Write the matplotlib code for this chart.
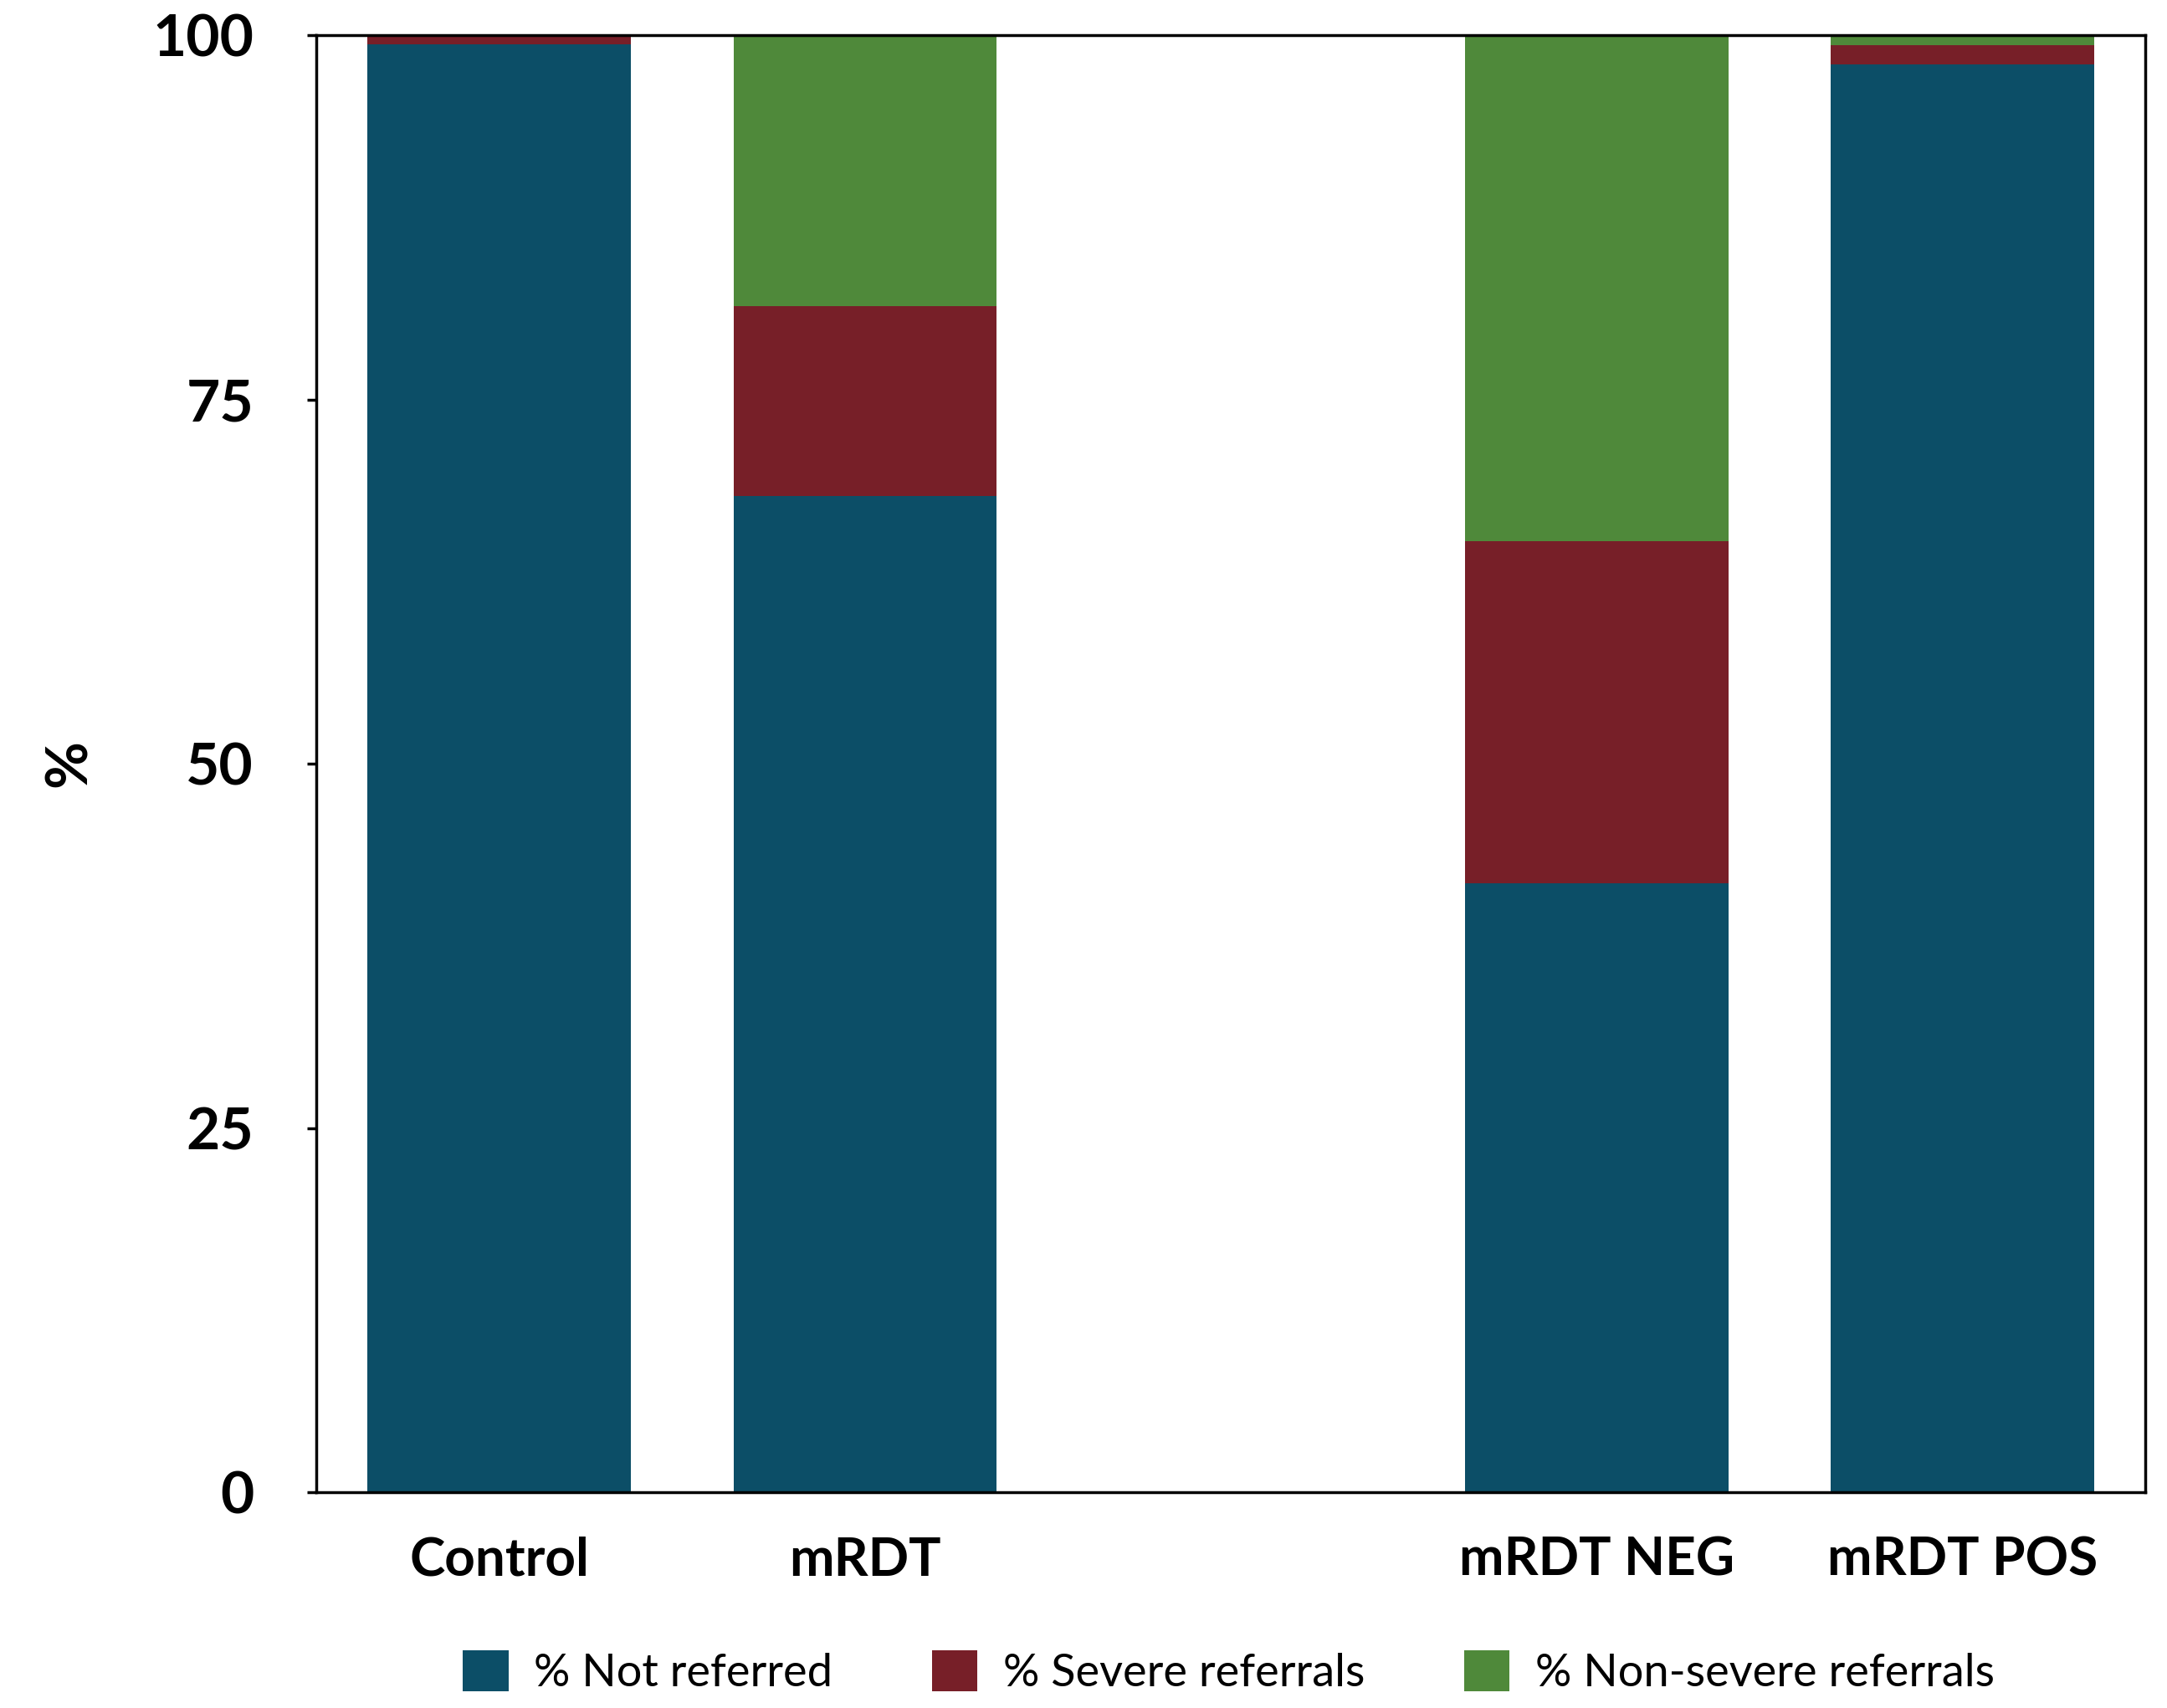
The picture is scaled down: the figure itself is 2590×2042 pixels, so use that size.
import matplotlib.pyplot as plt

categories = ["Control", "mRDT", "mRDT NEG", "mRDT POS"]
not_referred = [99.4, 68.4, 41.8, 98.0]
severe = [0.6, 13.0, 23.5, 1.35]
non_severe = [0.0, 18.6, 34.7, 0.65]

series_names = ["% Not referred", "% Severe referrals", "% Non-severe referrals"]
colors = ["#0C4E67", "#771F28", "#4F893A"]

# gap between the first pair and the second pair of bars
xpos = [0, 1, 3, 4]

plt.rcParams['font.family'] = ['Lato', 'DejaVu Sans']

fig = plt.figure(figsize=(25.9, 20.42), dpi=100)
ax = fig.add_axes([0.146, 0.1263, 0.844, 0.853])

bottom2 = [a + b for a, b in zip(not_referred, severe)]
ax.bar(xpos, not_referred, width=0.72, color=colors[0], label=series_names[0])
ax.bar(xpos, severe, width=0.72, bottom=not_referred, color=colors[1], label=series_names[1])
ax.bar(xpos, non_severe, width=0.72, bottom=bottom2, color=colors[2], label=series_names[2])

ax.set_xlim(-0.5, 4.5)
ax.set_ylim(0, 100)
ax.set_yticks([0, 25, 50, 75, 100])
ax.set_xticks(xpos)
ax.set_xticklabels(categories, fontsize=46, fontweight='bold')
ax.tick_params(axis='y', labelsize=50, length=8, width=2.5, pad=46)
ax.tick_params(axis='x', length=0, pad=38)
for lbl in ax.get_yticklabels():
    lbl.set_fontweight('bold')
for sp in ax.spines.values():
    sp.set_linewidth(2.5)

fig.text(0.032, 0.553, "%", rotation=90, fontsize=50, fontweight='bold',
         ha='center', va='center')

fig.legend(loc='center', bbox_to_anchor=(0.567, 0.021), ncol=3, frameon=False,
           fontsize=39, handlelength=1.0, handleheight=1.0,
           handletextpad=0.56, columnspacing=2.2)

fig.savefig('out.png')
